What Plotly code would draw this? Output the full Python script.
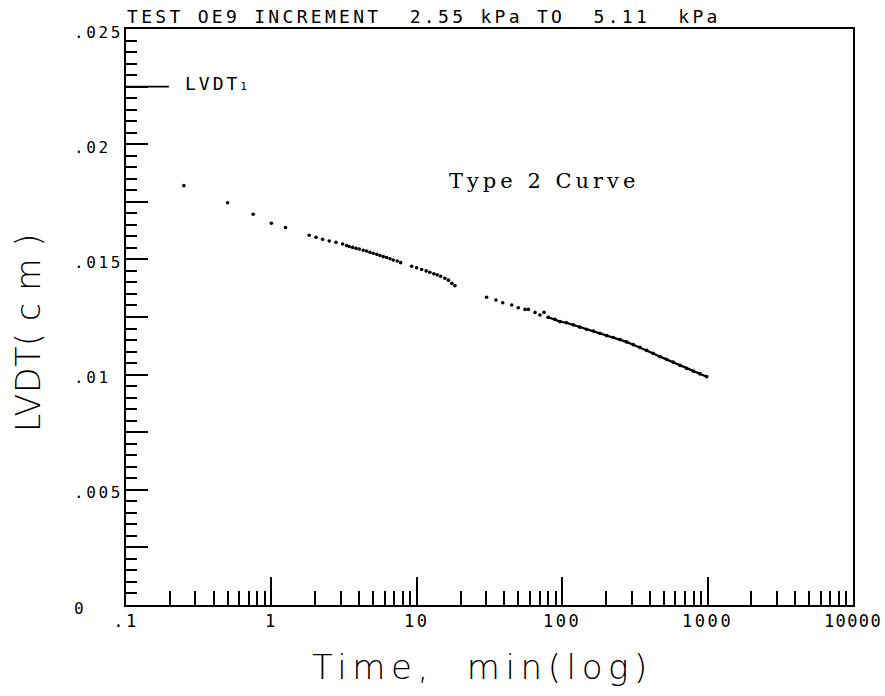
import plotly.graph_objects as go

# ---- data ----
time_min = [0.25, 0.5, 0.75, 1.0, 1.25,
            1.82, 2.03, 2.25, 2.5, 2.78, 3.09, 3.29, 3.43, 3.62, 3.82, 4.02, 4.28,
            4.52, 4.76, 5.02, 5.3, 5.58, 5.88, 6.2, 6.54, 6.89, 7.34, 7.74, 9.22,
            9.98, 10.8, 11.6, 12.3, 13.1, 13.8, 14.6, 15.6, 16.5, 17.4, 18.3,
            30.2, 35.0, 39.0, 45.0, 49.9, 55.5, 58.5, 65.0, 70.3, 75.0, 80.2]
lvdt_cm = [0.01820, 0.01746, 0.01696, 0.01657, 0.01638,
           0.01605, 0.01596, 0.01587, 0.01580, 0.01574, 0.01567, 0.01560, 0.01556,
           0.01552, 0.01548, 0.01545, 0.01540, 0.01536, 0.01531, 0.01527, 0.01522,
           0.01517, 0.01512, 0.01508, 0.01503, 0.01497, 0.01493, 0.01486, 0.01470,
           0.01464, 0.01456, 0.01450, 0.01444, 0.01438, 0.01433, 0.01427, 0.01418,
           0.01410, 0.01396, 0.01386,
           0.01336, 0.01324, 0.01312, 0.01302, 0.01290, 0.01283, 0.01283, 0.01270,
           0.01259, 0.01270, 0.01249]

# dense tail of the record (drawn as a solid run of points)
tail_time = [80.2, 89.2, 96.6, 107, 119, 132, 147, 164, 182, 202, 225, 250, 277,
             308, 343, 381, 423, 471, 523, 581, 646, 718, 798, 887, 986]
tail_lvdt = [0.01249, 0.01240, 0.01230, 0.01225, 0.01216, 0.01206, 0.01197,
             0.01189, 0.01179, 0.01169, 0.01161, 0.01152, 0.01142, 0.01130,
             0.01118, 0.01105, 0.01092, 0.01078, 0.01066, 0.01054, 0.01040,
             0.01027, 0.01015, 0.01003, 0.00991]

x_major = [0.1, 1, 10, 100, 1000, 10000]
x_labels = [".1", "1", "10", "100", "1000", "10000"]
x_label_spacing = [2.6, 2.6, 2.6, 2.6, 2.6, 1.4]
x_minor = [m * d for d in [0.1, 1, 10, 100, 1000] for m in range(2, 10)]

y_label_vals = [0, 0.005, 0.01, 0.015, 0.02, 0.025]
y_labels = ["0", ".005", ".01", ".015", ".02", ".025"]
y_major = [i * 0.0025 for i in range(11)]
y_minor = [i * 0.0005 for i in range(51)]

legend_y = 0.0225
title_text = "TEST OE9 INCREMENT\u00a0\u00a02.55 kPa TO\u00a0\u00a05.11\u00a0\u00a0kPa"

MONO = "DejaVu Sans Mono"
SANS = "DejaVu Sans"

fig = go.Figure()
fig.add_trace(go.Scatter(x=tail_time, y=tail_lvdt, mode="lines",
                         line=dict(color="black", width=2.2), hoverinfo="skip",
                         showlegend=False))
fig.add_trace(go.Scatter(x=time_min + tail_time, y=lvdt_cm + tail_lvdt, mode="markers",
                         marker=dict(color="black", size=3.6), showlegend=False))

axis_common = dict(showline=True, linecolor="black", linewidth=2, mirror=True,
                   showgrid=False, zeroline=False, ticks="inside", automargin=False,
                   tickcolor="black", tickwidth=1.6)

fig.update_xaxes(type="log", range=[-1, 4], tickmode="array", tickvals=x_major,
                 ticktext=["<span style='letter-spacing:%spx'>%s</span>" % (s, t)
                           for s, t in zip(x_label_spacing, x_labels)],
                 ticklen=28, tickfont=dict(family=MONO, size=17, color="black"),
                 ticklabeloverflow="allow",
                 minor=dict(tickmode="array", tickvals=x_minor, ticks="inside",
                            ticklen=14, tickcolor="black", tickwidth=1.6),
                 **axis_common)
fig.update_yaxes(range=[0, 0.025], tickmode="array", tickvals=y_major, ticklen=22,
                 showticklabels=False,
                 minor=dict(tickmode="array", tickvals=y_minor, ticks="inside",
                            ticklen=11, tickcolor="black", tickwidth=1.6),
                 **axis_common)

ann = []
for v, t in zip(y_label_vals, y_labels):
    ann.append(dict(x=-0.0743, xref="paper", xanchor="left", y=v, yref="y",
                    yanchor="middle", yshift=-3, showarrow=False,
                    text="<span style='letter-spacing:2.6px'>%s</span>" % t,
                    font=dict(family=MONO, size=16, color="black")))
ann.append(dict(x=0, xref="paper", xanchor="left", y=1.0217, yref="paper",
                yanchor="middle", showarrow=False, borderpad=0,
                text="<span style='letter-spacing:3.3px'>%s</span>" % title_text,
                font=dict(family=MONO, size=18, color="black")))
ann.append(dict(x=0.0784, xref="paper", xanchor="left", y=legend_y, yref="y",
                yanchor="middle", yshift=3, showarrow=False,
                text="<span style='letter-spacing:3px'>LVDT</span><span style='font-size:11px'>1</span>",
                font=dict(family=MONO, size=18, color="black")))
ann.append(dict(x=0.4415, xref="paper", xanchor="left", y=0.736, yref="paper",
                yanchor="middle", showarrow=False,
                text="<span style='letter-spacing:4px'>Type 2 Curve</span>",
                font=dict(family="DejaVu Serif", size=21, color="black")))
ann.append(dict(x=0.491, xref="paper", xanchor="center", y=-0.108, yref="paper",
                yanchor="middle", showarrow=False,
                text="<span style='letter-spacing:5.6px'>Time,\u00a0 min(log)</span>",
                font=dict(family=SANS, size=34, color="black", weight=200)))
ann.append(dict(x=-0.1348, xref="paper", xanchor="center", y=0.4722, yref="paper",
                yanchor="middle", showarrow=False, textangle=-90,
                text="<span style='letter-spacing:0.8px'>LVDT( c m )</span>",
                font=dict(family=SANS, size=33, color="black", weight=200)))

fig.update_layout(
    width=885, height=696, autosize=False,
    margin=dict(l=126, r=32, t=29, b=91, pad=0),
    paper_bgcolor="white", plot_bgcolor="white",
    annotations=ann,
    shapes=[dict(type="line", xref="paper", yref="y", x0=0, x1=0.059,
                 y0=legend_y, y1=legend_y, line=dict(color="black", width=1.8))],
)

fig.write_html(
    "out.html",
    config={"displayModeBar": False, "responsive": False},
    post_script=("document.documentElement.style.overflow='hidden';"
                 "document.body.style.overflow='hidden';"
                 "document.body.style.margin='0px';"),
)
